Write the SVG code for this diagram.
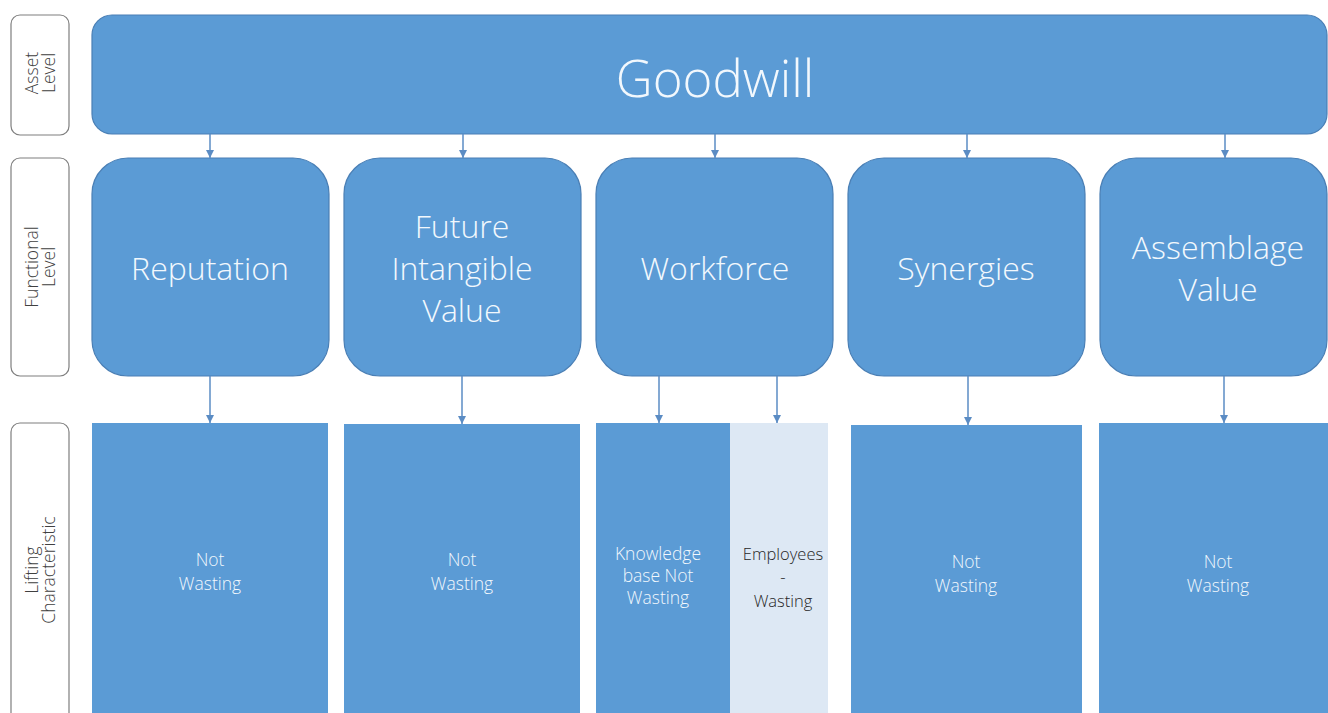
<svg xmlns="http://www.w3.org/2000/svg" width="1328" height="713" viewBox="0 0 1328 713">
<style>
.lab{fill:#ffffff;stroke:#7f7f7f;stroke-width:1.2}
.labt{font-family:"Open Sans","Liberation Sans",sans-serif;font-weight:300;font-size:17.5px;fill:#404040;text-anchor:middle}
.box{fill:#5b9bd5;stroke:#4a7fb5;stroke-width:1.2}
.leaf{fill:#5b9bd5}
.leaf2{fill:#dde8f4}
.big{font-family:"Open Sans","Liberation Sans",sans-serif;font-weight:300;fill:#f2f8fd;text-anchor:middle}
.sm{font-family:"Open Sans","Liberation Sans",sans-serif;font-weight:300;font-size:17.5px;fill:#f2f8fd;text-anchor:middle}
.smd{font-family:"Open Sans","Liberation Sans",sans-serif;font-weight:300;font-size:16.5px;fill:#262626;text-anchor:middle}
.con{stroke:#5b8cc4;stroke-width:1.5;fill:none;marker-end:url(#ah)}
</style>
<defs>
<marker id="ah" viewBox="0 0 10 10" refX="10" refY="5" markerWidth="8" markerHeight="8" markerUnits="userSpaceOnUse" orient="auto">
<path d="M0,0 L10,5 L0,10 z" fill="#5b8cc4"/>
</marker>
</defs>
<rect width="1328" height="713" fill="#ffffff"/>

<g id="label-asset">
<rect class="lab" x="11" y="15" width="58" height="120" rx="9"/>
<text class="labt" transform="translate(40,73) rotate(-90)"><tspan x="0" y="-2">Asset</tspan><tspan x="0" y="15">Level</tspan></text>
</g>
<g id="label-functional">
<rect class="lab" x="11" y="158" width="58" height="218" rx="9"/>
<text class="labt" transform="translate(40,267) rotate(-90)"><tspan x="0" y="-2">Functional</tspan><tspan x="0" y="15">Level</tspan></text>
</g>
<g id="label-lifting">
<rect class="lab" x="11" y="423" width="58" height="300" rx="9"/>
<text class="labt" transform="translate(40,570) rotate(-90)"><tspan x="0" y="-2">Lifting</tspan><tspan x="0" y="15">Characteristic</tspan></text>
</g>

<g id="goodwill">
<rect class="box" x="92" y="15" width="1235" height="119" rx="20"/>
<text class="big" x="715" y="97" font-size="51">Goodwill</text>
</g>

<g id="reputation">
<rect class="box" x="92" y="158" width="237" height="218" rx="36"/>
<text class="big" x="210" y="280" font-size="32">Reputation</text>
</g>
<g id="future-intangible-value">
<rect class="box" x="344" y="158" width="237" height="218" rx="36"/>
<text class="big" font-size="32"><tspan x="462" y="238">Future</tspan><tspan x="462" y="280">Intangible</tspan><tspan x="462" y="322">Value</tspan></text>
</g>
<g id="workforce">
<rect class="box" x="596" y="158" width="237" height="218" rx="36"/>
<text class="big" x="715" y="280" font-size="32">Workforce</text>
</g>
<g id="synergies">
<rect class="box" x="848" y="158" width="237" height="218" rx="36"/>
<text class="big" x="966" y="280" font-size="32">Synergies</text>
</g>
<g id="assemblage-value">
<rect class="box" x="1100" y="158" width="227" height="218" rx="36"/>
<text class="big" font-size="32"><tspan x="1218" y="259">Assemblage</tspan><tspan x="1218" y="301">Value</tspan></text>
</g>

<g id="reputation-not-wasting">
<rect class="leaf" x="92" y="423" width="236" height="300"/>
<text class="sm"><tspan x="210" y="566">Not</tspan><tspan x="210" y="590">Wasting</tspan></text>
</g>
<g id="future-not-wasting">
<rect class="leaf" x="344" y="424" width="236" height="300"/>
<text class="sm"><tspan x="462" y="566">Not</tspan><tspan x="462" y="590">Wasting</tspan></text>
</g>
<g id="knowledge-base">
<rect class="leaf" x="596" y="423" width="134" height="300"/>
<text class="sm" font-size="16"><tspan x="658" y="560">Knowledge</tspan><tspan x="658" y="582">base Not</tspan><tspan x="658" y="604">Wasting</tspan></text>
</g>
<g id="employees">
<rect class="leaf2" x="730" y="423" width="98" height="300"/>
<text class="smd"><tspan x="783" y="560">Employees</tspan><tspan x="783" y="583">-</tspan><tspan x="783" y="607">Wasting</tspan></text>
</g>
<g id="synergies-not-wasting">
<rect class="leaf" x="851" y="425" width="231" height="300"/>
<text class="sm"><tspan x="966" y="568">Not</tspan><tspan x="966" y="592">Wasting</tspan></text>
</g>
<g id="assemblage-not-wasting">
<rect class="leaf" x="1099" y="423" width="240" height="300"/>
<text class="sm"><tspan x="1218" y="568">Not</tspan><tspan x="1218" y="592">Wasting</tspan></text>
</g>

<g id="connectors">
<line class="con" x1="210" y1="134" x2="210" y2="158"/>
<line class="con" x1="463" y1="134" x2="463" y2="158"/>
<line class="con" x1="715" y1="134" x2="715" y2="158"/>
<line class="con" x1="967" y1="134" x2="967" y2="158"/>
<line class="con" x1="1225" y1="134" x2="1225" y2="158"/>
<line class="con" x1="210" y1="376" x2="210" y2="423"/>
<line class="con" x1="462" y1="376" x2="462" y2="424"/>
<line class="con" x1="659" y1="376" x2="659" y2="423"/>
<line class="con" x1="777" y1="376" x2="777" y2="423"/>
<line class="con" x1="968" y1="376" x2="968" y2="425"/>
<line class="con" x1="1224" y1="376" x2="1224" y2="423"/>
</g>
</svg>
